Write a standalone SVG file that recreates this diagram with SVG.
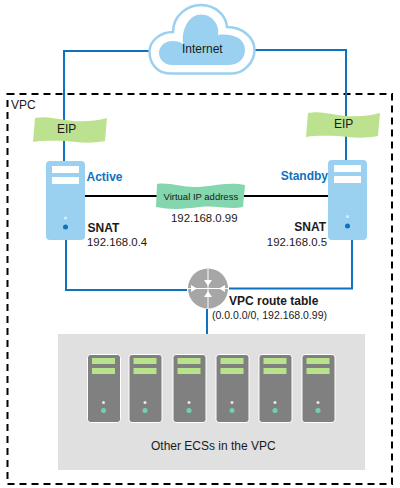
<svg xmlns="http://www.w3.org/2000/svg" width="400" height="488" viewBox="0 0 400 488">
<style>
text{font-family:"Liberation Sans",Arial,sans-serif;fill:#1a1a1a}
.t12{font-size:12px}.t11{font-size:11.400px}.b{font-weight:bold}
.blue{fill:#0d72c0;font-weight:bold;font-size:12px}
.wire{fill:none;stroke:#0d72c0;stroke-width:2}
.blk{fill:none;stroke:#000;stroke-width:2}
.srv{fill:#9bd1f0}
.eip{fill:#bde28f}
.bar{fill:#fff}
.ecs{fill:#808080;stroke:#fff;stroke-width:1}
.ebar{fill:#b9e28c}
</style>
<defs>
<g id="e">
<rect class="ecs" x="0" y="0" width="33" height="68" rx="3"/>
<rect class="ebar" x="4.500" y="3.500" width="23" height="6"/>
<rect class="ebar" x="4.500" y="13.500" width="23" height="6"/>
<circle cx="16" cy="48" r="1.500" fill="#e8e8e8"/>
<circle cx="16" cy="56" r="2.500" fill="#6fd3a8"/>
</g>
<path id="flag" d="M2 1C12 -1 20 1 32 3S60 5 74 1L72 24C62 26 52 26 42 25S14 23 0 25Z"/>
</defs>
<g id="vpc">
<rect x="7.500" y="94" width="384.500" height="390" fill="none" stroke="#000" stroke-width="2" stroke-dasharray="7 5"/>
<text class="t12" x="11" y="109">VPC</text>
</g>
<g id="connectors">
<path class="wire" d="M64 161V51H150"/>
<path class="wire" d="M346 160V50H255"/>
<path class="wire" d="M66 240V290H187"/>
<path class="wire" d="M352 240V288.500H229"/>
<path class="wire" d="M207 309V334"/>
<path class="blk" d="M85 196H160"/>
<path class="blk" d="M243 196H328"/>
</g>
<g id="internet">
<path d="M170 73.500C157 73.500 149.500 63 149.500 52C149.500 41 160 32 173 32C173 15 188 5 201 5C215 5 226 15 227 27C243 27 254.500 38 254.500 50C254.500 63 243 73.500 232 73.500Z" fill="#fff" stroke="#9bd1f0" stroke-width="2.500"/>
<path d="M172 65C164 65 159 59 159 53C159 46 165 41 172 41C177 41 181 42 183 44C181 28 190 14.500 201 14.500C213 14.500 220 26 218 35C232 33 245 38 245 50C245 59 238 65 228 65Z" fill="#9bd1f0"/>
<text class="t12" x="182" y="52.500">Internet</text>
</g>
<g id="eip-left">
<use href="#flag" class="eip" transform="translate(33 117)"/>
<text class="t12" x="57" y="133">EIP</text>
</g>
<g id="eip-right">
<use href="#flag" class="eip" transform="translate(306 112)"/>
<text class="t12" x="334" y="128">EIP</text>
</g>
<g id="active">
<rect class="srv" x="46" y="161" width="39" height="79" rx="4"/>
<rect class="bar" x="52" y="166" width="27" height="7"/>
<rect class="bar" x="52" y="177" width="27" height="7"/>
<circle cx="65.500" cy="218" r="1.500" fill="#d9eefb"/>
<circle cx="65.500" cy="227" r="2.500" fill="#0d72c0"/>
<text class="blue" x="86.500" y="181">Active</text>
<text class="t12 b" x="87.500" y="232">SNAT</text>
<text class="t11" x="87" y="246">192.168.0.4</text>
</g>
<g id="standby">
<rect class="srv" x="328" y="160" width="39" height="80" rx="4"/>
<rect class="bar" x="334" y="165" width="27" height="7"/>
<rect class="bar" x="334" y="176" width="27" height="7"/>
<circle cx="347.500" cy="216.500" r="1.500" fill="#d9eefb"/>
<circle cx="347.500" cy="226" r="2.500" fill="#0d72c0"/>
<text class="blue" x="328" y="180" text-anchor="end">Standby</text>
<text class="t12 b" x="326" y="231" text-anchor="end">SNAT</text>
<text class="t11" x="327" y="246" text-anchor="end">192.168.0.5</text>
</g>
<g id="vip">
<path d="M157 184C168 182 180 187 195 187S228 181 245 185L243 207C230 210 215 205 200 207S170 210 156 207Z" fill="#83d6ad"/>
<text x="163.500" y="199.500" font-size="9.500">Virtual IP address</text>
<text class="t11" x="171" y="222">192.168.0.99</text>
</g>
<g id="router">
<circle cx="208" cy="288.500" r="20" fill="#a6a6a6"/>
<path d="M208 268.500V308.500M188 288.500H228" stroke="#fff" stroke-width="1" fill="none"/>
<path d="M204 280H212L208 286ZM204 297H212L208 291ZM191 285V292L197 288.500ZM225 285V292L219 288.500Z" fill="#fff"/>
<text class="t12 b" x="229" y="305">VPC route table</text>
<text x="212" y="319" font-size="10.500">(0.0.0.0/0, 192.168.0.99)</text>
</g>
<g id="ecs-group">
<rect x="58" y="334" width="307" height="136" fill="#e0e0e0"/>
<use href="#e" x="87.500" y="354.500"/>
<use href="#e" x="129" y="354.500"/>
<use href="#e" x="173" y="354.500"/>
<use href="#e" x="216" y="354.500"/>
<use href="#e" x="259" y="354.500"/>
<use href="#e" x="302" y="354.500"/>
<text class="t12" x="151" y="450">Other ECSs in the VPC</text>
</g>
</svg>
